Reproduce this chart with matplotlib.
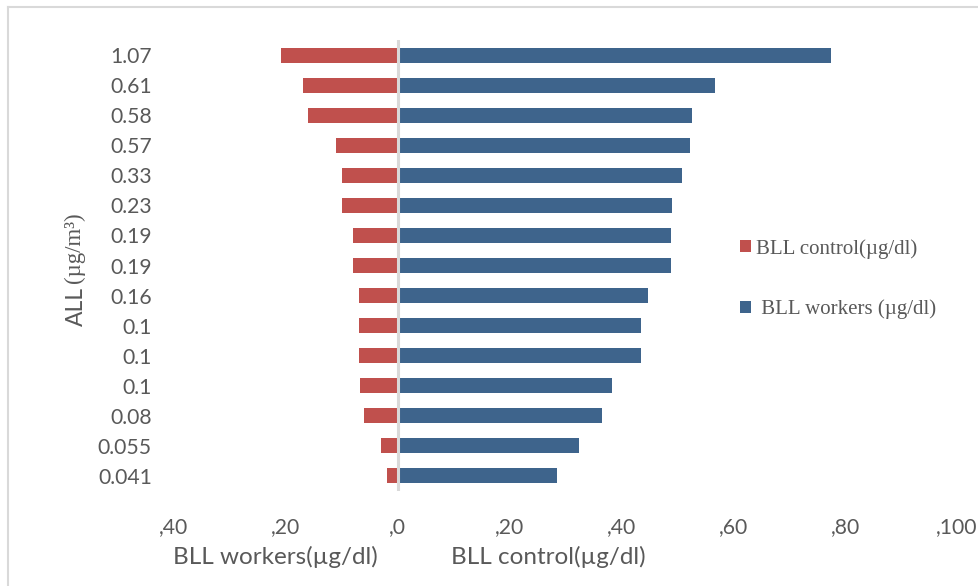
import matplotlib
matplotlib.use("Agg")
import matplotlib.pyplot as plt
from matplotlib.patches import Patch
from matplotlib.lines import Line2D
from matplotlib.ticker import FuncFormatter, FixedLocator

# ---- data ----
categories = ['1.07', '0.61', '0.58', '0.57', '0.33', '0.23', '0.19', '0.19',
              '0.16', '0.1', '0.1', '0.1', '0.08', '0.055', '0.041']
left_values = [20.9, 17.0, 16.0, 11.0, 10.0, 10.0, 8.0, 8.0,
               7.0, 7.0, 7.0, 6.8, 6.0, 3.0, 2.0]
right_values = [77.5, 56.7, 52.7, 52.2, 50.9, 49.0, 48.9, 48.9,
                44.8, 43.5, 43.5, 38.4, 36.5, 32.5, 28.5]
x_ticks = [-40, -20, 0, 20, 40, 60, 80, 100]
legend_labels = ['BLL control(\u00b5g/dl)', ' BLL workers (\u00b5g/dl)']
xlabel_left = 'BLL workers(\u00b5g/dl)'
xlabel_right = 'BLL control(\u00b5g/dl)'

RED = '#C0504D'
BLUE = '#3E648C'
GRAY = '#595959'
SANS = ['Lato', 'DejaVu Sans']
SERIF = ['Liberation Serif', 'DejaVu Serif']

W, H = 979, 586
fig = plt.figure(figsize=(W / 100, H / 100), dpi=100)

def fx(px):
    return px / W

def fy(py):
    return 1 - py / H

ax = fig.add_axes([fx(174), fy(491), fx(957) - fx(174), fy(40) - fy(491)])

y = list(range(len(categories)))
ax.barh(y, [-v for v in left_values], height=0.5, color=RED, zorder=2)
ax.barh(y, right_values, height=0.5, color=BLUE, zorder=2)
ax.axvline(0, color='#D9D9D9', lw=2.2, zorder=3)

ax.set_xlim(-40, 100)
ax.set_ylim(len(categories) - 0.5, -0.5)
ax.set_yticks(y)
ax.set_yticklabels(categories)
ax.xaxis.set_major_locator(FixedLocator(x_ticks))
ax.xaxis.set_major_formatter(FuncFormatter(lambda v, p: ',' + str(abs(int(round(v))))))
ax.tick_params(axis='both', length=0, colors=GRAY, labelsize=15.2)
ax.tick_params(axis='y', pad=16)
ax.tick_params(axis='x', pad=19)
for lab in ax.get_xticklabels() + ax.get_yticklabels():
    lab.set_family(SANS)
for s in ax.spines.values():
    s.set_visible(False)

# chart border (left and top visible)
fig.add_artist(Line2D([fx(8), fx(8)], [fy(7), 0], color='#D9D9D9', lw=1.5))
fig.add_artist(Line2D([fx(8), 1], [fy(7), fy(7)], color='#D9D9D9', lw=1.5))

# axis titles
fig.text(fx(275), fy(557), xlabel_left, family=SANS, fontsize=17.5, color=GRAY,
         ha='center', va='center')
fig.text(fx(548), fy(557), xlabel_right, family=SANS, fontsize=17.5, color=GRAY,
         ha='center', va='center')
fig.text(fx(76), fy(307), 'ALL', family=SANS, fontsize=16.5, color=GRAY,
         rotation=90, ha='center', va='center')
fig.text(fx(74), fy(248), '(\u00b5g/m\u00b3)', family=SERIF, fontsize=16.5, color=GRAY,
         rotation=90, ha='center', va='center')

# legend
handles = [Patch(facecolor=RED, edgecolor='none'), Patch(facecolor=BLUE, edgecolor='none')]
leg = fig.legend(handles, legend_labels, loc='center left',
                 bbox_to_anchor=(fx(740), fy(279)), frameon=False,
                 prop={'family': SERIF, 'size': 15}, handlelength=0.52,
                 handleheight=0.52, handletextpad=0.25, labelspacing=1.95,
                 borderpad=0, borderaxespad=0)
for t in leg.get_texts():
    t.set_color(GRAY)

fig.savefig('out.png', dpi=100)
